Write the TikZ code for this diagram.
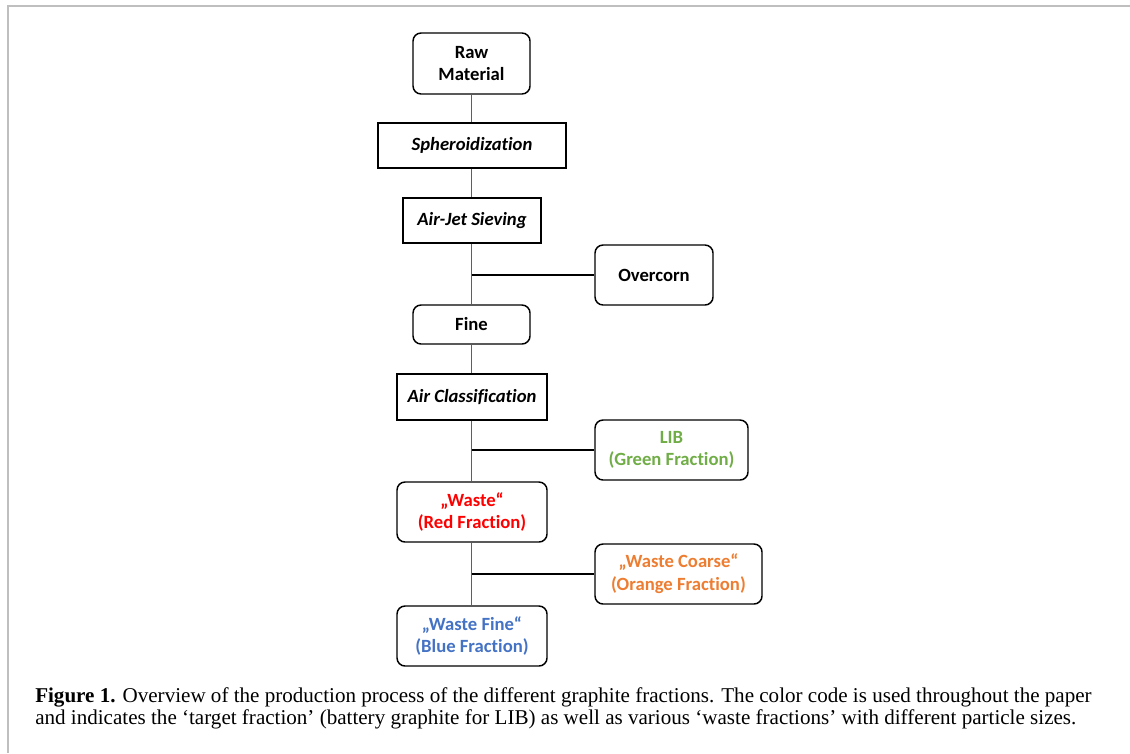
\documentclass[tikz,border=0pt]{standalone}
\usepackage{fontspec}
\setmainfont{Liberation Serif}
\newfontfamily\boxfont[Ligatures=NoCommon]{Carlito}
\definecolor{libgreen}{RGB}{112,173,71}
\definecolor{wred}{RGB}{255,0,0}
\definecolor{worange}{RGB}{237,125,49}
\definecolor{wblue}{RGB}{68,114,196}
\definecolor{framegray}{RGB}{191,191,191}
\definecolor{linegray}{RGB}{95,95,95}
\tikzset{
  procbox/.style={draw=black, line width=1.1pt, rectangle, inner sep=0pt, align=center,
    font=\boxfont\fontsize{14}{17}\selectfont\bfseries\itshape},
  fracbox/.style={draw=black, line width=1.1pt, rectangle, rounded corners=6pt, inner sep=0pt, align=center,
    font=\boxfont\fontsize{14}{17}\selectfont\bfseries},
  vline/.style={draw=linegray, line width=1.4pt},
  hline/.style={draw=black, line width=1.1pt},
  captxt/.style={anchor=base west, inner sep=0pt, font=\fontsize{15.8}{19}\selectfont}
}
\begin{document}
\begin{tikzpicture}[x=0.75pt, y=-0.75pt]
\useasboundingbox (0,0) rectangle (1130,753);
% frame
\draw[framegray, line width=1.5pt] (7.5,753) -- (7.5,5.5) -- (1130,5.5);
% nodes
\node[fracbox, minimum width=87.75pt, minimum height=45.75pt] (raw) at (471.5,63.5) {Raw\\Material};
\node[procbox, minimum width=141pt, minimum height=33.75pt] (sph) at (472,145.5) {Spheroidization};
\node[procbox, minimum width=103.5pt, minimum height=33.75pt] (ajs) at (472,220.5) {Air-Jet Sieving};
\node[fracbox, minimum width=88.5pt, minimum height=45pt] (over) at (654,275) {Overcorn};
\node[fracbox, minimum width=87.75pt, minimum height=29.25pt] (fine) at (471.5,324.5) {Fine};
\node[procbox, minimum width=112.5pt, minimum height=34.5pt] (ac) at (472,397) {Air Classification};
\node[fracbox, text=libgreen, minimum width=114.75pt, minimum height=45pt] (lib) at (671.5,450) {LIB\\(Green Fraction)};
\node[fracbox, text=wred, minimum width=112.5pt, minimum height=45pt] (waste) at (472,512) {„Waste“\\(Red Fraction)};
\node[fracbox, text=worange, minimum width=125.25pt, minimum height=45pt] (coarse) at (678.5,574) {„Waste Coarse“\\(Orange Fraction)};
\node[fracbox, text=wblue, minimum width=112.5pt, minimum height=45pt] (wfine) at (472,636) {„Waste Fine“\\(Blue Fraction)};
% branch points
\coordinate (b1) at (fine.north |- over.west);
\coordinate (b2) at (fine.north |- lib.west);
\coordinate (b3) at (fine.north |- coarse.west);
% vertical connectors
\draw[vline] (raw.south) -- (raw.south |- sph.north);
\draw[vline] (raw.south |- sph.south) -- (raw.south |- ajs.north);
\draw[vline] (fine.north |- ajs.south) -- (fine.north);
\draw[vline] (fine.south) -- (fine.south |- ac.north);
\draw[vline] (fine.south |- ac.south) -- (fine.south |- waste.north);
\draw[vline] (fine.south |- waste.south) -- (fine.south |- wfine.north);
% horizontal branches
\draw[hline, line width=1.8pt] (b1) -- (over.west);
\draw[hline] (b2) -- (lib.west);
\draw[hline] (b3) -- (coarse.west);
% caption
\node[captxt] (cap1) at (35,702) {\textbf{Figure 1.} Overview of the production process of the different graphite fractions. The color code is used throughout the paper};
\node[captxt] (cap2) at (35,724) {and indicates the ‘target fraction’ (battery graphite for LIB) as well as various ‘waste fractions’ with different particle sizes.};
\end{tikzpicture}
\end{document}
